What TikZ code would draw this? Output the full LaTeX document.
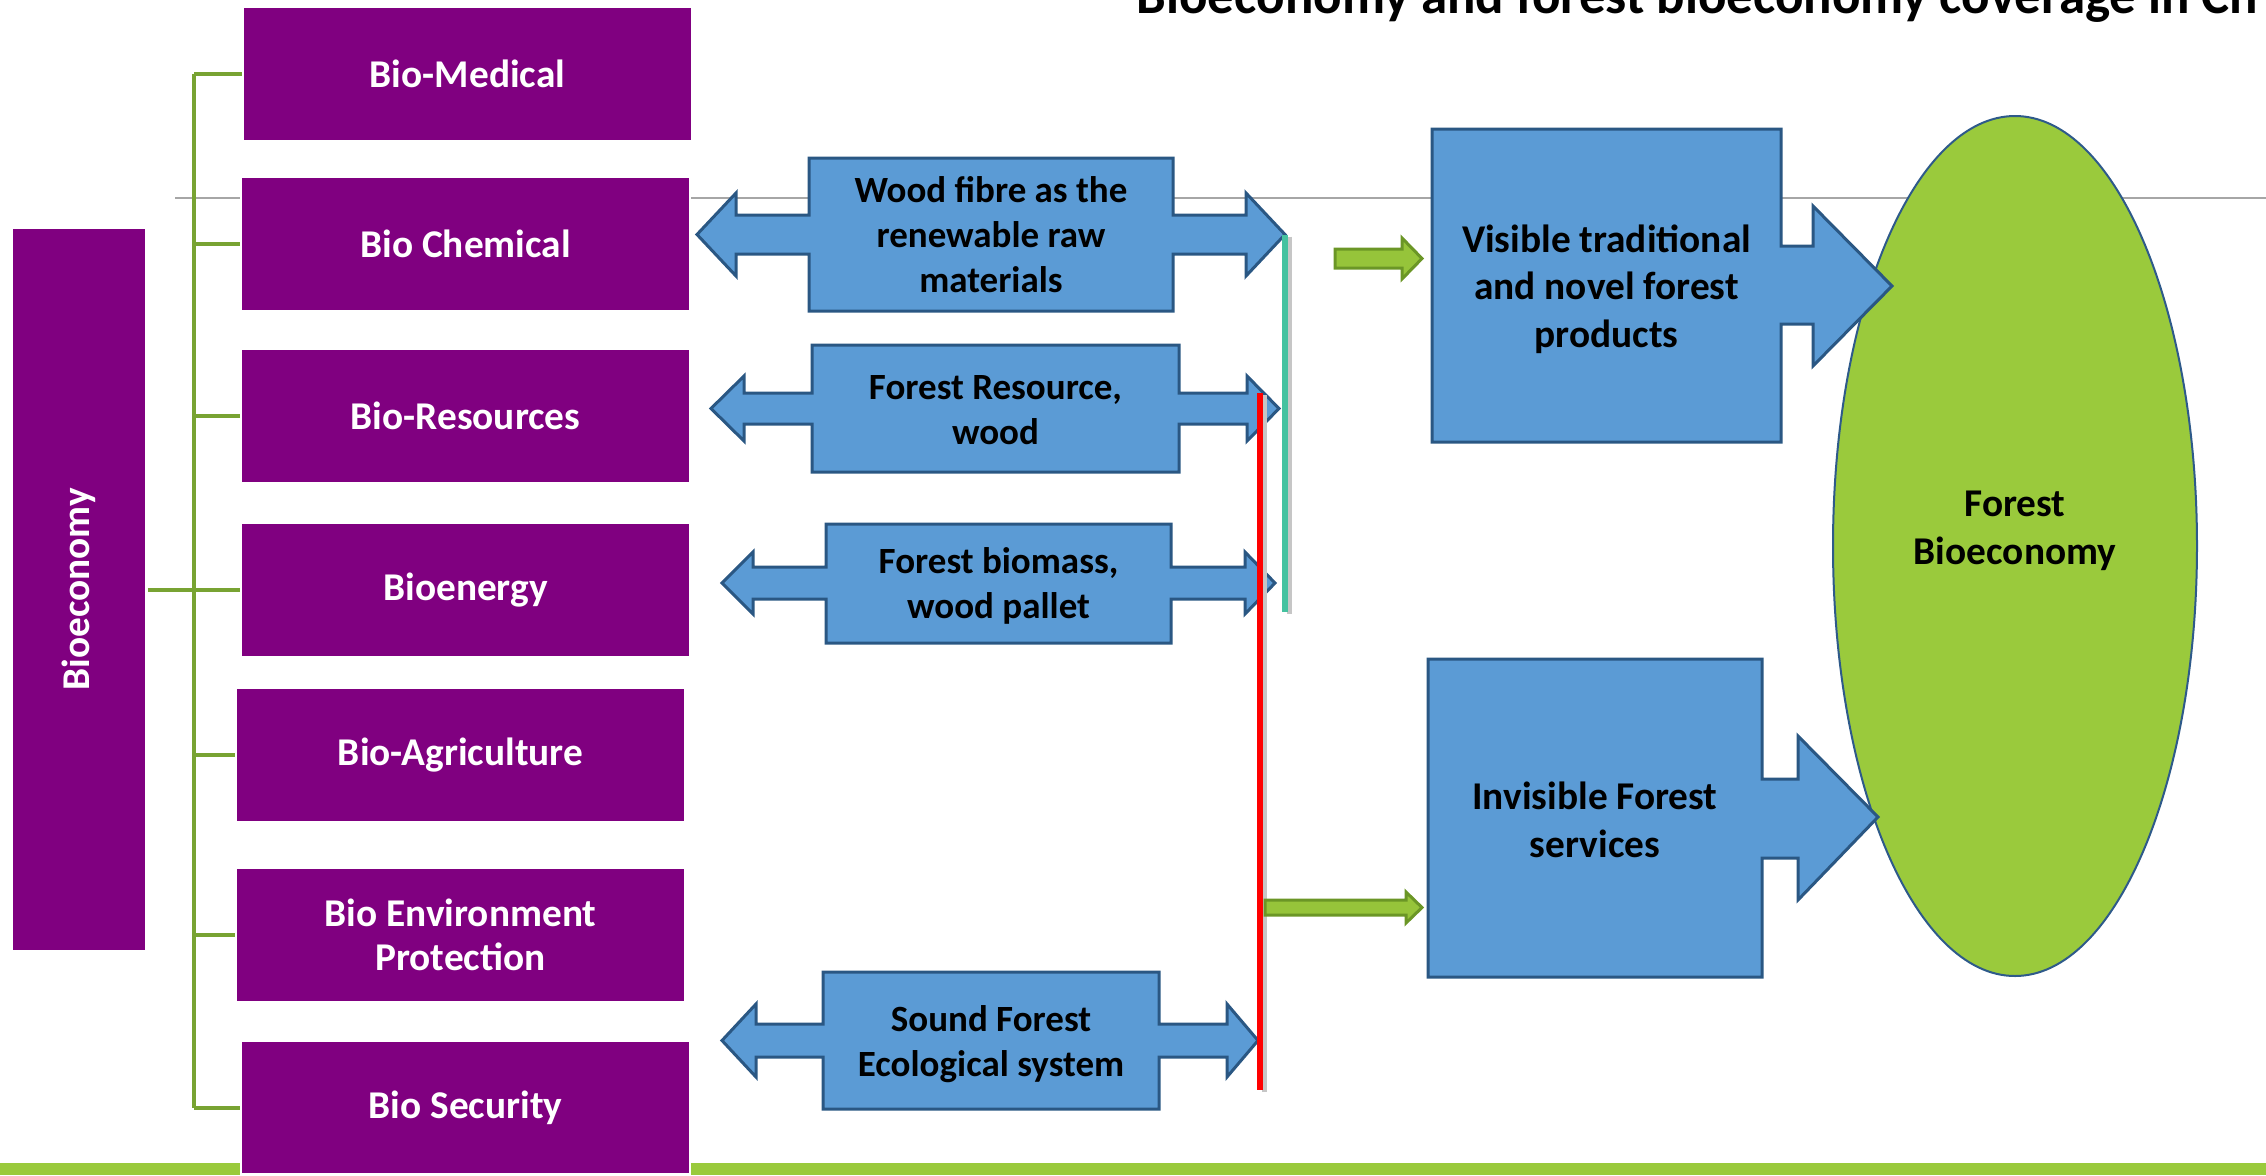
\documentclass[tikz,border=0pt]{standalone}
\usepackage{fontspec}
\setmainfont{Carlito}
\usepackage{xcolor}
\usetikzlibrary{shapes.geometric}
\usetikzlibrary{calc}

\definecolor{bioPurple}{HTML}{800080}
\definecolor{boxBlue}{HTML}{5B9BD5}
\definecolor{lineBlue}{HTML}{2A5783}
\definecolor{leafGreen}{HTML}{9ACA3C}
\definecolor{treeGreen}{HTML}{78A332}
\definecolor{arrGreen}{HTML}{96C43A}
\definecolor{arrEdge}{HTML}{6B9626}
\definecolor{tealLine}{HTML}{45C2A0}
\definecolor{ellEdge}{HTML}{2E5A8A}

\begin{document}
\begin{tikzpicture}[x=0.3pt,y=-0.3pt,
    purplebox/.style={fill=bioPurple,draw=white,line width=0.8pt,text=white,
        font=\bfseries\fontsize{11.8pt}{13.05pt}\selectfont,align=center,
        minimum width=134.7pt,minimum height=40.2pt,inner sep=0pt},
    tree/.style={treeGreen,line width=1.2pt},
    bluecall/.style={fill=boxBlue,draw=lineBlue,line width=0.9pt},
    bluetext/.style={font=\bfseries\fontsize{11.1pt}{13.45pt}\selectfont,align=center,inner sep=0pt},
    righttext/.style={font=\bfseries\fontsize{11.8pt}{14.3pt}\selectfont,align=center,inner sep=0pt},
    forestell/.style={ellipse,fill=leafGreen,draw=ellEdge,line width=0.6pt,
        minimum width=109.2pt,minimum height=258pt,inner sep=0pt},
    greenarrow/.style={fill=arrGreen,draw=arrEdge,line width=0.9pt},
    shadowline/.style={gray!45,line width=1.5pt},
    ]
    \useasboundingbox (0,0) rectangle (2266,1175);
    \clip (0,0) rectangle (2266,1175);

    % background rule and footer bar
    \draw[gray!70,line width=0.45pt] (175,198) -- (2266,198);
    \fill[leafGreen] (0,1163) rectangle (2266,1175);

    % bioeconomy sectors
    \node[purplebox,rotate=90,minimum width=216.9pt,minimum height=40.5pt] (bioeco) at (79,589.5) {Bioeconomy};
    \node[purplebox] (medical) at (467.5,74) {Bio-Medical};
    \node[purplebox] (chemical) at (465.5,244) {Bio Chemical};
    \node[purplebox] (resources) at (465.5,416) {Bio-Resources};
    \node[purplebox] (energy) at (465.5,590) {Bioenergy};
    \node[purplebox] (agri) at (460.5,755) {Bio-Agriculture};
    \node[purplebox] (environ) at (460.5,935) {Bio Environment\\Protection};
    \node[purplebox] (security) at (465.5,1107.5) {Bio Security};

    \coordinate (trunk) at (194,0);
    \draw[tree] (trunk |- medical.west) -- (trunk |- security.west);
    \foreach \b in {medical,chemical,resources,energy,agri,environ,security}
        \draw[tree] (trunk |- \b.west) -- (\b.west);
    \draw[tree] (bioeco.south |- energy.west) -- (trunk |- energy.west);

    % forest bioeconomy
    \node[forestell] (forest) at (2015,546) {};
    \node[righttext] (forestlbl) at (2015,531) {Forest\\Bioeconomy};

    % left-right callouts
    \draw[bluecall] (809,158) -- (1173,158) -- (1173,215) -- (1246,215) -- (1246,193)
        -- (1285,234.5) -- (1246,276) -- (1246,254) -- (1173,254) -- (1173,311)
        -- (809,311) -- (809,254) -- (736,254) -- (736,276) -- (697,234.5)
        -- (736,193) -- (736,215) -- (809,215) -- cycle;
    \node[bluetext] (fibre) at (991,234.5) {Wood fibre as the\\renewable raw\\materials};

    \draw[bluecall] (812,345) -- (1179,345) -- (1179,393) -- (1247,393) -- (1247,376)
        -- (1279,408.5) -- (1247,441) -- (1247,424) -- (1179,424) -- (1179,472)
        -- (812,472) -- (812,424) -- (744,424) -- (744,441) -- (711,408.5)
        -- (744,376) -- (744,393) -- (812,393) -- cycle;
    \node[bluetext] (resource) at (995.5,410.5) {Forest Resource,\\wood};

    \draw[bluecall] (826,524) -- (1171,524) -- (1171,567) -- (1245,567) -- (1245,552)
        -- (1275,583) -- (1245,614) -- (1245,599) -- (1171,599) -- (1171,643)
        -- (826,643) -- (826,599) -- (753,599) -- (753,614) -- (722,583)
        -- (753,552) -- (753,567) -- (826,567) -- cycle;
    \node[bluetext] (biomass) at (998.5,586) {Forest biomass,\\wood pallet};

    \draw[bluecall] (823,972) -- (1159,972) -- (1159,1024) -- (1227,1024) -- (1227,1004)
        -- (1258,1040.5) -- (1227,1077) -- (1227,1057) -- (1159,1057) -- (1159,1109)
        -- (823,1109) -- (823,1057) -- (756,1057) -- (756,1077) -- (722,1040.5)
        -- (756,1004) -- (756,1024) -- (823,1024) -- cycle;
    \node[bluetext] (ecosys) at (991,1044.5) {Sound Forest\\Ecological system};

    % right callouts
    \draw[bluecall] (1432,129) -- (1781,129) -- (1781,246) -- (1813,246) -- (1813,206)
        -- (1892,286) -- (1813,366) -- (1813,324) -- (1781,324) -- (1781,442)
        -- (1432,442) -- cycle;
    \node[righttext] (visible) at (1606.5,289) {Visible traditional\\and novel forest\\products};

    \draw[bluecall] (1428,659) -- (1762,659) -- (1762,779) -- (1798,779) -- (1798,736)
        -- (1878,817) -- (1798,900) -- (1798,858) -- (1762,858) -- (1762,977)
        -- (1428,977) -- cycle;
    \node[righttext] (invisible) at (1595,819.5) {Invisible Forest\\services};

    % collecting lines
    \coordinate (tealtop) at (1285,234.5);
    \coordinate (tealend) at (1285,612);
    \coordinate (redtop) at (1260,393);
    \coordinate (redend) at (1260,1090);
    \draw[shadowline] ([xshift=1.2pt,yshift=-0.6pt]tealtop) -- ([xshift=1.2pt,yshift=-0.6pt]tealend);
    \draw[tealLine,line width=1.6pt] (tealtop) -- (tealend);
    \draw[shadowline] ([xshift=1.2pt,yshift=-0.6pt]redtop) -- ([xshift=1.2pt,yshift=-0.6pt]redend);
    \draw[red,line width=1.6pt] (redtop) -- (redend);

    % green block arrows
    \coordinate (g1s) at (1335,258.5);
    \coordinate (g2s) at (1265,907.5);
    \draw[greenarrow] (g1s) ++(0,-9.5) -- ++(67,0) -- ++(0,-11) -- ++(20,20.5)
        -- ++(-20,20.5) -- ++(0,-11) -- ++(-67,0) -- cycle;
    \draw[greenarrow] (g2s) ++(0,-7.5) -- ++(141,0) -- ++(0,-8) -- ++(16,15.5)
        -- ++(-16,15.5) -- ++(0,-8) -- ++(-141,0) -- cycle;

    % title, cut by the frame
    \node[anchor=base west,inner sep=0pt,font=\bfseries\fontsize{15.9pt}{18.5pt}\selectfont] (title)
        at (1136,13) {Bioeconomy and forest bioeconomy coverage in Ch};
\end{tikzpicture}
\end{document}
